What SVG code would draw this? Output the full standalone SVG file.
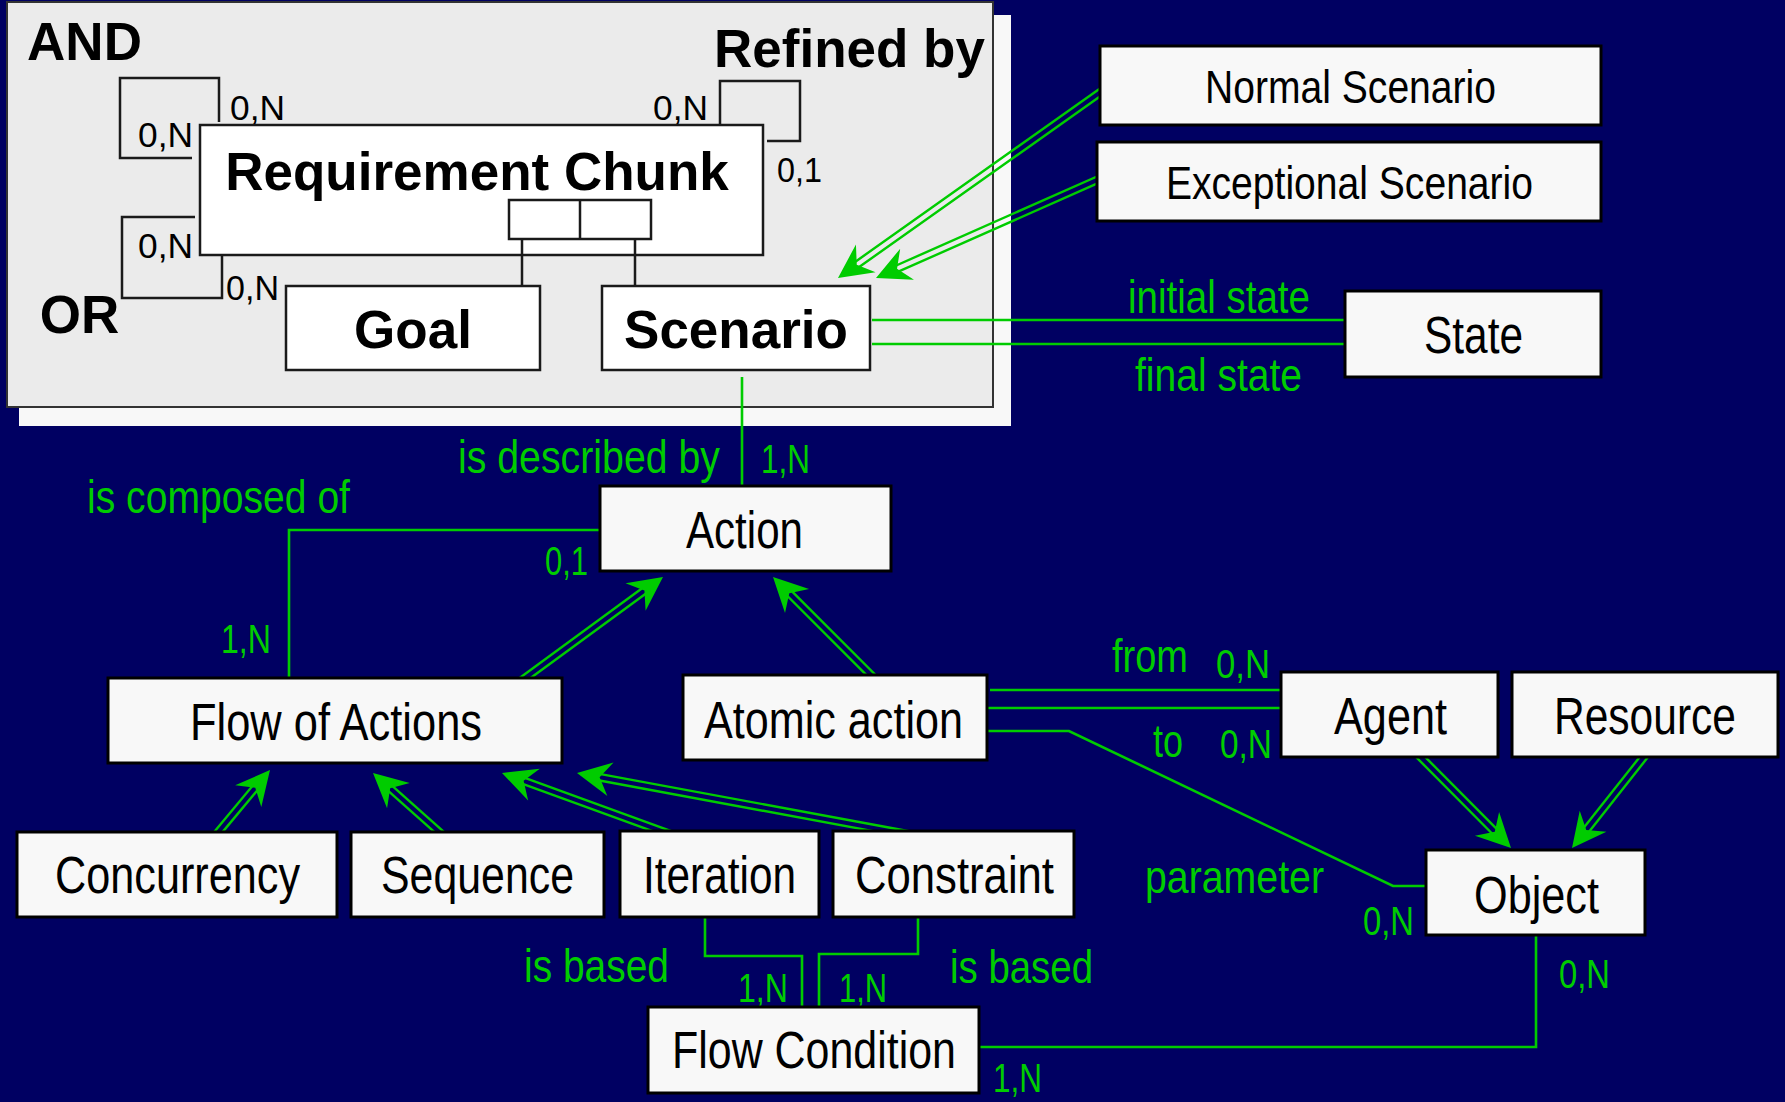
<svg xmlns="http://www.w3.org/2000/svg" width="1785" height="1102" viewBox="0 0 1785 1102">
<style>
.box{fill:#f8f8f8;stroke:#000;stroke-width:3}
.pbox{fill:#fff;stroke:#1a1a1a;stroke-width:2.5}
.pl{fill:none;stroke:#1a1a1a;stroke-width:2.5}
.cn{fill:none;stroke:#00cc00;stroke-width:2.6}
.dl{fill:none;stroke:#00cc00;stroke-width:2.4}
.ah{fill:#00cc00}
.b{font-family:"Liberation Sans",Arial,Helvetica,sans-serif;font-weight:bold;font-size:53px;fill:#000;text-anchor:middle}
.t{font-family:"Liberation Sans Narrow","Liberation Sans",Arial,sans-serif;font-size:51px;fill:#000}
.s{font-family:"Liberation Sans Narrow","Liberation Sans",Arial,sans-serif;font-size:46px;fill:#000}
.g{font-family:"Liberation Sans Narrow","Liberation Sans",Arial,sans-serif;font-size:46px;fill:#00cc00}
.c{font-family:"Liberation Sans Narrow","Liberation Sans",Arial,sans-serif;font-size:40px;fill:#00cc00}
.k{font-family:"Liberation Sans",Arial,sans-serif;font-size:35px;fill:#000}
</style>
<defs>
<path id="head" d="M0,0 L-34,-17 L-23,0 L-34,17 Z"/>
</defs>

<rect x="0" y="0" width="1785" height="1102" fill="#000062"/>

<!-- requirement chunk panel with its drop shadow -->
<g id="panel">
<rect x="19" y="15" width="992" height="411" fill="#f8f8f8"/>
<rect x="7" y="2" width="986" height="405" fill="#ebebeb" stroke="#333" stroke-width="2"/>
<text class="b" x="84.5" y="60">AND</text>
<text class="b" x="79.5" y="333">OR</text>
<text class="b" x="849.5" y="67">Refined by</text>
<!-- recursive links on the chunk -->
<path class="pl" d="M219,122 V78 H120 V158 H192"/>
<path class="pl" d="M195,217 H122 V298 H222 V253"/>
<path class="pl" d="M720,125 V81 H800 V141 H767"/>
<text class="k" x="230" y="120" textLength="55" lengthAdjust="spacingAndGlyphs">0,N</text>
<text class="k" x="138" y="147" textLength="55" lengthAdjust="spacingAndGlyphs">0,N</text>
<text class="k" x="138" y="258" textLength="55" lengthAdjust="spacingAndGlyphs">0,N</text>
<text class="k" x="226" y="300" textLength="53" lengthAdjust="spacingAndGlyphs">0,N</text>
<text class="k" x="653" y="120" textLength="55" lengthAdjust="spacingAndGlyphs">0,N</text>
<text class="k" x="777" y="182" textLength="45" lengthAdjust="spacingAndGlyphs">0,1</text>
</g>

<g id="connectors">
<!-- plain associations -->
<path class="cn" d="M742,377 V486"/>
<path class="cn" d="M872,320 H1346"/>
<path class="cn" d="M872,344 H1346"/>
<path class="cn" d="M600,530 H289 V679"/>
<path class="cn" d="M990,690 H1282"/>
<path class="cn" d="M986,708 H1282"/>
<path class="cn" d="M986,731 H1069 L1393,886 H1427"/>
<path class="cn" d="M1536,936 V1047 H978"/>
<path class="cn" d="M705,917 V956 H802 V1008"/>
<path class="cn" d="M918,917 V954 H819 V1008"/>

<!-- specialisation arrows: double shaft + barbed head, drawn along -x -->
<g transform="translate(838,278) rotate(144.7)"><path class="dl" d="M-329,-3.25 H-18 M-329,3.25 H-18"/><use href="#head" class="ah"/></g>
<g transform="translate(876,278) rotate(156.1)"><path class="dl" d="M-250,-3.25 H-18 M-250,3.25 H-18"/><use href="#head" class="ah"/></g>
<g transform="translate(663,577) rotate(-36.2)"><path class="dl" d="M-191,-3.25 H-18 M-191,3.25 H-18"/><use href="#head" class="ah"/></g>
<g transform="translate(773,577) rotate(-135)"><path class="dl" d="M-156,-3.25 H-18 M-156,3.25 H-18"/><use href="#head" class="ah"/></g>
<g transform="translate(1511,848) rotate(45.2)"><path class="dl" d="M-147,-3.25 H-18 M-147,3.25 H-18"/><use href="#head" class="ah"/></g>
<g transform="translate(1572,848) rotate(128.3)"><path class="dl" d="M-135,-3.25 H-18 M-135,3.25 H-18"/><use href="#head" class="ah"/></g>
<g transform="translate(270,770) rotate(-50.2)"><path class="dl" d="M-98,-3.25 H-18 M-98,3.25 H-18"/><use href="#head" class="ah"/></g>
<g transform="translate(373,773) rotate(-138.3)"><path class="dl" d="M-106,-3.25 H-18 M-106,3.25 H-18"/><use href="#head" class="ah"/></g>
<g transform="translate(502,773) rotate(-160)"><path class="dl" d="M-184,-3.25 H-18 M-184,3.25 H-18"/><use href="#head" class="ah"/></g>
<g transform="translate(577,773) rotate(-169.5)"><path class="dl" d="M-348,-3.25 H-18 M-348,3.25 H-18"/><use href="#head" class="ah"/></g>

<!-- role names and cardinalities -->
<text class="g" x="458" y="473" textLength="262" lengthAdjust="spacingAndGlyphs">is described by</text>
<text class="c" x="761" y="473" textLength="49" lengthAdjust="spacingAndGlyphs">1,N</text>
<text class="g" x="87" y="513" textLength="263" lengthAdjust="spacingAndGlyphs">is composed of</text>
<text class="c" x="545" y="575" textLength="43" lengthAdjust="spacingAndGlyphs">0,1</text>
<text class="c" x="221" y="653" textLength="50" lengthAdjust="spacingAndGlyphs">1,N</text>
<text class="g" x="1128" y="313" textLength="182" lengthAdjust="spacingAndGlyphs">initial state</text>
<text class="g" x="1135" y="391" textLength="167" lengthAdjust="spacingAndGlyphs">final state</text>
<text class="g" x="1112" y="672" textLength="76" lengthAdjust="spacingAndGlyphs">from</text>
<text class="c" x="1216" y="678" textLength="54" lengthAdjust="spacingAndGlyphs">0,N</text>
<text class="g" x="1153" y="757" textLength="30" lengthAdjust="spacingAndGlyphs">to</text>
<text class="c" x="1220" y="758" textLength="52" lengthAdjust="spacingAndGlyphs">0,N</text>
<text class="g" x="1145" y="893" textLength="179" lengthAdjust="spacingAndGlyphs">parameter</text>
<text class="c" x="1363" y="935" textLength="51" lengthAdjust="spacingAndGlyphs">0,N</text>
<text class="c" x="1559" y="988" textLength="51" lengthAdjust="spacingAndGlyphs">0,N</text>
<text class="g" x="524" y="982" textLength="145" lengthAdjust="spacingAndGlyphs">is based</text>
<text class="c" x="738" y="1002" textLength="50" lengthAdjust="spacingAndGlyphs">1,N</text>
<text class="c" x="839" y="1002" textLength="48" lengthAdjust="spacingAndGlyphs">1,N</text>
<text class="g" x="950" y="983" textLength="143" lengthAdjust="spacingAndGlyphs">is based</text>
<text class="c" x="993" y="1092" textLength="49" lengthAdjust="spacingAndGlyphs">1,N</text>
</g>

<!-- nodes inside the panel -->
<g id="requirement-chunk">
<rect class="pbox" x="200" y="125" width="563" height="130"/>
<text class="b" x="477" y="190">Requirement Chunk</text>
<rect class="pbox" x="509" y="200" width="142" height="39"/>
<path class="pl" d="M580,200 V239"/>
<path class="pl" d="M522,239 V286 M635,239 V286"/>
</g>
<g id="goal">
<rect class="pbox" x="286" y="286" width="254" height="84"/>
<text class="b" x="413" y="348">Goal</text>
</g>
<g id="scenario">
<rect class="pbox" x="602" y="286" width="268" height="84"/>
<text class="b" x="736" y="348">Scenario</text>
</g>

<!-- nodes on the dark background -->
<g id="normal-scenario">
<rect class="box" x="1100" y="46" width="501" height="79"/>
<text class="s" x="1205" y="103" textLength="291" lengthAdjust="spacingAndGlyphs">Normal Scenario</text>
</g>
<g id="exceptional-scenario">
<rect class="box" x="1097" y="142" width="504" height="79"/>
<text class="s" x="1166" y="199" textLength="367" lengthAdjust="spacingAndGlyphs">Exceptional Scenario</text>
</g>
<g id="state">
<rect class="box" x="1345" y="291" width="256" height="86"/>
<text class="t" x="1424" y="353" textLength="99" lengthAdjust="spacingAndGlyphs">State</text>
</g>
<g id="action">
<rect class="box" x="600" y="486" width="291" height="85"/>
<text class="t" x="686" y="548" textLength="117" lengthAdjust="spacingAndGlyphs">Action</text>
</g>
<g id="flow-of-actions">
<rect class="box" x="108" y="678" width="454" height="85"/>
<text class="t" x="190" y="740" textLength="292" lengthAdjust="spacingAndGlyphs">Flow of Actions</text>
</g>
<g id="atomic-action">
<rect class="box" x="683" y="675" width="304" height="85"/>
<text class="t" x="704" y="738" textLength="259" lengthAdjust="spacingAndGlyphs">Atomic action</text>
</g>
<g id="agent">
<rect class="box" x="1281" y="672" width="217" height="85"/>
<text class="t" x="1334" y="734" textLength="113" lengthAdjust="spacingAndGlyphs">Agent</text>
</g>
<g id="resource">
<rect class="box" x="1512" y="672" width="266" height="85"/>
<text class="t" x="1554" y="734" textLength="182" lengthAdjust="spacingAndGlyphs">Resource</text>
</g>
<g id="object">
<rect class="box" x="1426" y="850" width="219" height="85"/>
<text class="t" x="1474" y="913" textLength="125" lengthAdjust="spacingAndGlyphs">Object</text>
</g>
<g id="concurrency">
<rect class="box" x="17" y="832" width="320" height="85"/>
<text class="t" x="55" y="893" textLength="245" lengthAdjust="spacingAndGlyphs">Concurrency</text>
</g>
<g id="sequence">
<rect class="box" x="351" y="832" width="253" height="85"/>
<text class="t" x="381" y="893" textLength="193" lengthAdjust="spacingAndGlyphs">Sequence</text>
</g>
<g id="iteration">
<rect class="box" x="620" y="831" width="199" height="86"/>
<text class="t" x="643" y="893" textLength="153" lengthAdjust="spacingAndGlyphs">Iteration</text>
</g>
<g id="constraint">
<rect class="box" x="833" y="831" width="241" height="86"/>
<text class="t" x="855" y="893" textLength="199" lengthAdjust="spacingAndGlyphs">Constraint</text>
</g>
<g id="flow-condition">
<rect class="box" x="648" y="1007" width="331" height="86"/>
<text class="t" x="672" y="1068" textLength="284" lengthAdjust="spacingAndGlyphs">Flow Condition</text>
</g>
</svg>
